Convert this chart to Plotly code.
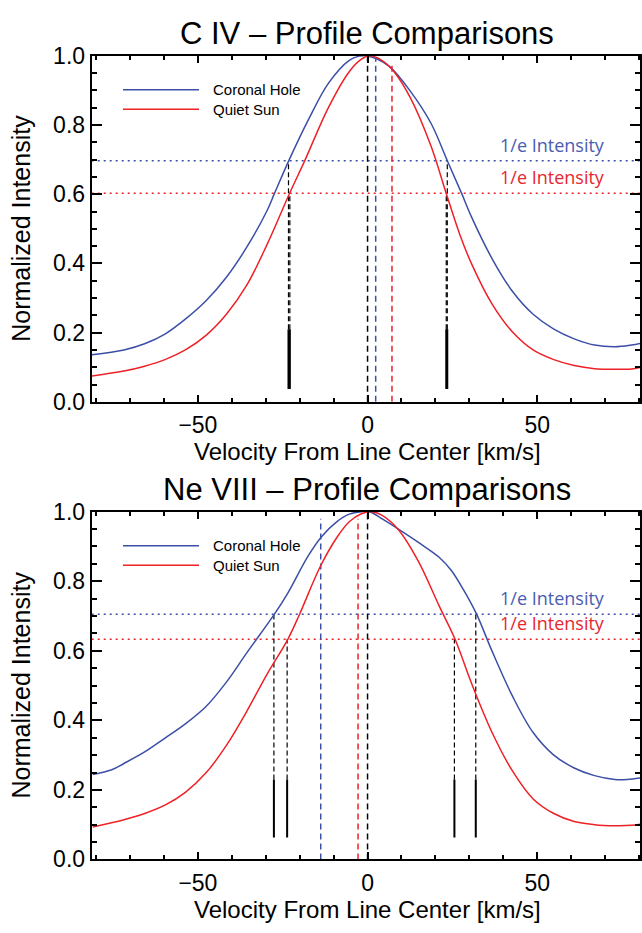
import plotly.graph_objects as go

# ---------------- data ----------------
# C IV profiles (velocity km/s, normalized intensity)
civ_ch_v = [-81.2, -71.8, -65.7, -59.7, -53.7, -47.6, -41.6, -35.6, -29.6, -27.4, -23.2, -17.5, -11.5, -5.4, -2.5, -0.5,
            3.0, 6.6, 12.6, 18.7, 23.5, 27.7, 30.7, 36.8, 42.8, 48.8, 54.9, 60.9, 66.9, 72.9, 77.8, 81.1]
civ_ch_i = [0.136, 0.150, 0.168, 0.196, 0.239, 0.292, 0.360, 0.447, 0.553, 0.603, 0.697, 0.814, 0.921, 0.987, 0.999, 1.000,
            0.990, 0.968, 0.898, 0.805, 0.697, 0.603, 0.533, 0.412, 0.318, 0.253, 0.210, 0.182, 0.164, 0.159, 0.164, 0.170]
civ_qs_v = [-81.2, -71.8, -65.7, -59.7, -53.7, -47.6, -41.6, -35.6, -29.6, -23.0, -18.5, -11.5, -5.4, -1.8, 0.6,
            4.2, 7.8, 12.6, 18.7, 23.2, 27.1, 30.7, 36.8, 42.8, 48.8, 54.9, 60.9, 66.9, 72.9, 77.8, 81.1]
civ_qs_i = [0.075, 0.089, 0.103, 0.122, 0.150, 0.192, 0.253, 0.337, 0.455, 0.602, 0.697, 0.851, 0.954, 0.990, 1.000,
            0.987, 0.954, 0.879, 0.739, 0.602, 0.486, 0.398, 0.281, 0.201, 0.150, 0.122, 0.105, 0.096, 0.094, 0.095, 0.101]

# Ne VIII profiles
ne_ch_v = [-81.0, -75.4, -71.8, -65.7, -59.7, -53.7, -47.6, -41.6, -35.6, -27.4, -23.5, -17.5, -13.5, -9.1, -5.4, -1.8, 0.6,
           4.2, 9.1, 15.1, 21.1, 24.7, 28.3, 32.1, 36.7, 42.8, 48.8, 54.9, 60.9, 66.9, 72.9, 76.5, 81.1]
ne_ch_i = [0.244, 0.258, 0.276, 0.309, 0.349, 0.390, 0.440, 0.510, 0.594, 0.706, 0.766, 0.873, 0.929, 0.971, 0.993, 1.000, 1.000,
           0.980, 0.950, 0.911, 0.869, 0.831, 0.775, 0.706, 0.599, 0.468, 0.365, 0.300, 0.263, 0.241, 0.230, 0.230, 0.235]
ne_qs_v = [-81.0, -71.8, -65.7, -59.7, -53.7, -47.6, -41.6, -35.6, -29.6, -23.5, -20.0, -14.0, -9.1, -5.4, -1.8, 1.2,
           4.2, 9.1, 15.1, 21.1, 25.8, 30.7, 36.7, 42.8, 48.8, 54.9, 60.9, 66.9, 72.9, 77.8, 81.1]
ne_qs_i = [0.093, 0.114, 0.132, 0.156, 0.193, 0.249, 0.328, 0.426, 0.533, 0.633, 0.706, 0.841, 0.925, 0.971, 0.994, 1.000,
           0.990, 0.948, 0.855, 0.729, 0.633, 0.505, 0.365, 0.253, 0.174, 0.132, 0.109, 0.100, 0.097, 0.098, 0.102]

# 1/e intensity levels [coronal hole, quiet sun]
civ_levels = [0.697, 0.603]
ne_levels = [0.705, 0.633]

# centroid lines: (velocity, top) for rest (black), coronal hole (blue), quiet sun (red)
civ_centroids = [(0.0, 1.0), (2.4, 0.99), (7.2, 0.98)]
ne_centroids = [(0.0, 1.0), (-13.8, 0.98), (-2.8, 0.98)]

# width crossing markers: (velocity, crossing intensity)
civ_cross = [(-23.3, 0.697), (-22.9, 0.603), (23.5, 0.697), (23.2, 0.603)]
ne_cross = [(-27.6, 0.705), (-23.7, 0.633), (25.6, 0.633), (31.9, 0.705)]
civ_bar = [0.037, 0.21]
ne_bar = [0.063, 0.23]

titles = ["C IV \u2013 Profile Comparisons", "Ne VIII \u2013 Profile Comparisons"]
legend_names = ["Coronal Hole", "Quiet Sun"]
x_title = "Velocity From Line Center [km/s]"
y_title = "Normalized Intensity"
level_label = "1/e Intensity"
x_range = [-81.3, 80.3]

# ---------------- style ----------------
BLUE = "#3c4fa6"
RED = "#ee2126"
BLUE_T = "#4a5db0"
RED_T = "#e8262f"
FONT = "Liberation Sans, Arial, Helvetica, sans-serif"

W, H = 642, 933
xdom = [91.7 / W, 640 / W]
ydoms = [[1 - 400 / H, 1 - 44 / H], [1 - 870.7 / H, 1 - 513 / H]]

fig = go.Figure()

panels = [
    (civ_ch_v, civ_ch_i, civ_qs_v, civ_qs_i, civ_levels, civ_centroids, civ_cross, civ_bar),
    (ne_ch_v, ne_ch_i, ne_qs_v, ne_qs_i, ne_levels, ne_centroids, ne_cross, ne_bar),
]

for k, (chv, chi, qsv, qsi, lev, cen, cross, bar) in enumerate(panels):
    xa = "x" if k == 0 else "x2"
    ya = "y" if k == 0 else "y2"
    common = dict(xaxis=xa, yaxis=ya, mode="lines", showlegend=False, hoverinfo="skip")
    # horizontal dotted 1/e levels
    for lv, col in zip(lev, [BLUE, RED]):
        fig.add_trace(go.Scatter(x=x_range, y=[lv, lv], line=dict(color=col, width=1.5, dash="2px,4px"), **common))
    # centroid dashed lines
    for (v, top), col in zip(cen, ["black", BLUE, RED]):
        fig.add_trace(go.Scatter(x=[v, v], y=[0, top], line=dict(color=col, width=1.5, dash="6px,4px"), **common))
    # width crossing markers
    for v, yc in cross:
        fig.add_trace(go.Scatter(x=[v, v], y=[bar[1], yc], line=dict(color="black", width=1.2, dash="5px,3px"), **common))
        fig.add_trace(go.Scatter(x=[v, v], y=[bar[0], bar[1]], line=dict(color="black", width=2), **common))
    # profiles
    fig.add_trace(go.Scatter(x=chv, y=chi, line=dict(color=BLUE, width=1.5, shape="spline", smoothing=1.0), **common))
    fig.add_trace(go.Scatter(x=qsv, y=qsi, line=dict(color=RED, width=1.5, shape="spline", smoothing=1.0), **common))

axis_common = dict(showline=True, linecolor="black", linewidth=2, mirror="ticks", ticks="inside",
                   showgrid=False, zeroline=False, tickcolor="black", tickwidth=1.5,
                   tickfont=dict(family=FONT, size=23, color="black"))

annotations = []
shapes = []
for k in range(2):
    sfx = "" if k == 0 else "2"
    fig.layout["xaxis" + sfx] = dict(domain=xdom, range=x_range, anchor="y" + sfx, dtick=50, tick0=0, ticklen=7,
                                     ticklabelstandoff=2,
                                     minor=dict(dtick=10, tick0=0, ticklen=4, ticks="inside", tickcolor="black", tickwidth=1.5),
                                     **axis_common)
    fig.layout["yaxis" + sfx] = dict(domain=ydoms[k], range=[0, 1.0], anchor="x" + sfx, dtick=0.2, tick0=0, ticklen=10,
                                     tickformat=".1f",
                                     minor=dict(dtick=0.05, tick0=0, ticklen=5, ticks="inside", tickcolor="black", tickwidth=1.5),
                                     **axis_common)
    y0, y1 = ydoms[k]
    annotations.append(dict(text=titles[k], x=367 / W, y=y1 + 23 / H, xref="paper", yref="paper",
                            xanchor="center", yanchor="middle", showarrow=False,
                            font=dict(family=FONT, size=31, color="black")))
    annotations.append(dict(text=x_title, x=367 / W, y=y0 - 51 / H, xref="paper", yref="paper",
                            xanchor="center", yanchor="middle", showarrow=False,
                            font=dict(family=FONT, size=24, color="black")))
    annotations.append(dict(text=y_title, x=21 / W, y=(y0 + y1) / 2, xref="paper", yref="paper",
                            xanchor="center", yanchor="middle", textangle=-90, showarrow=False,
                            font=dict(family=FONT, size=25, color="black")))
    # legend
    for j, (name, col) in enumerate(zip(legend_names, [BLUE, RED])):
        ly = y1 - (35 + 20 * j) / H
        shapes.append(dict(type="line", xref="paper", yref="paper", x0=123 / W, x1=199 / W, y0=ly, y1=ly,
                           line=dict(color=col, width=1.5)))
        annotations.append(dict(text=name, x=211 / W, y=ly, xref="paper", yref="paper", xanchor="left",
                                yanchor="middle", showarrow=False, font=dict(family=FONT, size=15, color="black")))
    # 1/e labels
    lev = civ_levels if k == 0 else ne_levels
    for lv, col in zip(lev, [BLUE_T, RED_T]):
        annotations.append(dict(text=level_label, x=607 / W, y=lv, xref="paper", yref="y" + sfx,
                                xanchor="right", yanchor="bottom", yshift=2, showarrow=False,
                                font=dict(family="Open Sans, Noto Sans, sans-serif", size=18, color=col)))

fig.update_layout(width=W, height=H, margin=dict(l=0, r=0, t=0, b=0), paper_bgcolor="white", plot_bgcolor="white",
                  annotations=annotations, shapes=shapes, showlegend=False)

fig.write_html("out.html")
